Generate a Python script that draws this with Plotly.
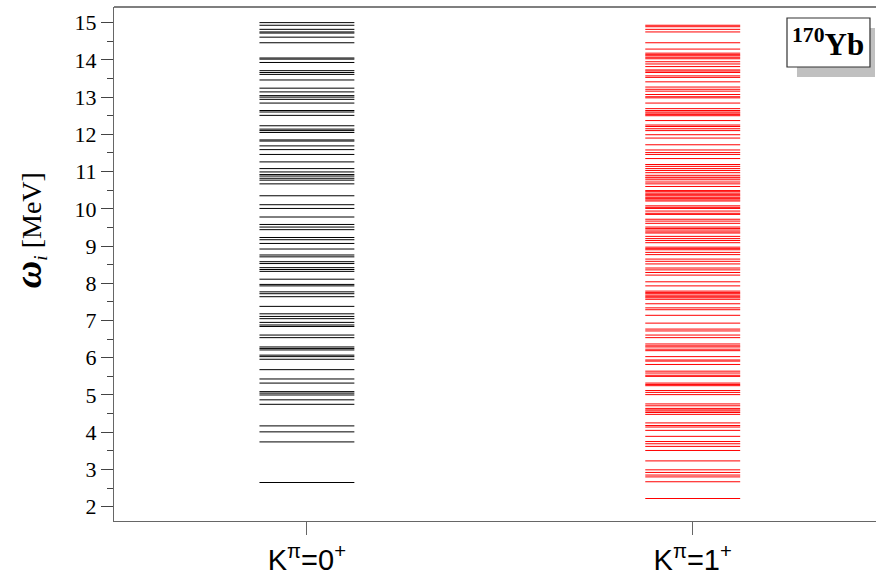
import plotly.graph_objects as go

categories = ["K<sup>π</sup>=0<sup>+</sup>", "K<sup>π</sup>=1<sup>+</sup>"]

k0_energies = [15.00, 14.93, 14.82, 14.75, 14.72, 14.61, 14.46, 14.05, 14.02, 13.93,
               13.71, 13.66, 13.61, 13.46, 13.24, 13.14, 13.04, 13.00, 12.94, 12.84,
               12.64, 12.60, 12.51, 12.23, 12.14, 12.10, 12.05, 11.85, 11.82, 11.69,
               11.59, 11.46, 11.26, 11.08, 10.99, 10.92, 10.88, 10.82, 10.77, 10.67,
               10.35, 10.11, 10.01, 9.78, 9.58, 9.51, 9.44, 9.23, 9.17, 9.07,
               8.92, 8.76, 8.71, 8.58, 8.53, 8.42, 8.37, 8.32, 8.11, 7.97,
               7.93, 7.77, 7.72, 7.64, 7.38, 7.18, 7.11, 7.05, 6.95, 6.88,
               6.84, 6.61, 6.54, 6.29, 6.25, 6.21, 6.07, 6.03, 5.96, 5.68,
               5.43, 5.32, 5.09, 5.05, 5.00, 4.87, 4.75, 4.17, 4.01, 3.74, 2.65]

k1_energies = [14.93, 14.89, 14.82, 14.75, 14.46, 14.29, 14.18, 14.14, 14.11, 14.07,
               14.03, 13.95, 13.89, 13.82, 13.73, 13.70, 13.66, 13.57, 13.53, 13.41,
               13.27, 13.21, 13.16, 13.07, 13.01, 12.98, 12.84, 12.69, 12.64, 12.60,
               12.57, 12.53, 12.50, 12.37, 12.25, 12.21, 12.15, 12.10, 11.99, 11.90,
               11.72, 11.58, 11.51, 11.46, 11.35, 11.19, 11.14, 11.08, 11.03, 10.97,
               10.90, 10.85, 10.83, 10.78, 10.72, 10.67, 10.60, 10.49, 10.46, 10.42,
               10.38, 10.35, 10.31, 10.28, 10.24, 10.21, 10.08, 10.04, 10.01, 9.94,
               9.88, 9.85, 9.72, 9.67, 9.61, 9.51, 9.47, 9.43, 9.38, 9.35,
               9.26, 9.20, 9.15, 9.09, 8.97, 8.93, 8.90, 8.83, 8.77, 8.65,
               8.59, 8.52, 8.41, 8.36, 8.29, 8.22, 8.04, 7.93, 7.79, 7.75,
               7.72, 7.68, 7.64, 7.61, 7.57, 7.45, 7.34, 7.29, 7.14, 6.93,
               6.77, 6.72, 6.61, 6.54, 6.37, 6.32, 6.29, 6.23, 6.19, 6.03,
               5.94, 5.91, 5.82, 5.64, 5.59, 5.53, 5.50, 5.32, 5.28, 5.25,
               5.12, 5.07, 5.01, 4.76, 4.71, 4.64, 4.60, 4.57, 4.53, 4.48,
               4.25, 4.18, 4.14, 4.05, 3.89, 3.75, 3.69, 3.62, 3.51, 3.23,
               2.99, 2.92, 2.85, 2.80, 2.67, 2.22]

y_ticks = list(range(2, 16))
nucleus_label = "<sup>170</sup>Yb"
colors = ["#000000", "#ff0000"]
half_width = 0.123


def level_segments(center, energies):
    xs, ys = [], []
    for e in energies:
        xs += [center - half_width, center + half_width, None]
        ys += [e, e, None]
    return xs, ys


fig = go.Figure()
for i, energies in enumerate([k0_energies, k1_energies]):
    xs, ys = level_segments(i, energies)
    fig.add_trace(go.Scatter(x=xs, y=ys, mode="lines",
                             line=dict(color=colors[i], width=1),
                             hoverinfo="skip", showlegend=False))

fig.update_layout(
    width=876, height=585,
    margin=dict(l=114, r=0, t=7, b=64),
    plot_bgcolor="white", paper_bgcolor="white",
    xaxis=dict(range=[-0.5, 1.475], tickvals=[0, 1], ticktext=categories,
               showgrid=False, zeroline=False, showline=True, linecolor="#666666",
               linewidth=1.2, ticks="outside", ticklen=13, tickcolor="#666666",
               tickfont=dict(family="Liberation Sans, Arial", size=29, color="black")),
    yaxis=dict(range=[1.616, 15.42], tickvals=y_ticks,
               showgrid=False, zeroline=False, showline=True, linecolor="#666666",
               linewidth=1.2, ticks="outside", ticklen=12, tickcolor="#444444",
               tickfont=dict(family="Liberation Serif, Times New Roman", size=22, color="black"),
               minor=dict(dtick=0.5, ticks="outside", ticklen=6, tickcolor="#444444")),
)

# top border
fig.add_shape(type="line", xref="paper", yref="paper", x0=0, x1=1, y0=1, y1=1,
              line=dict(color="black", width=1.2))

# inset label with shadow
fig.add_shape(type="rect", xref="paper", yref="paper",
              x0=0.8963, x1=0.9987, y0=0.8638, y1=0.9591,
              fillcolor="#c0c0c0", line=dict(width=0), layer="above")
fig.add_shape(type="rect", xref="paper", yref="paper",
              x0=0.8832, x1=0.9921, y0=0.8833, y1=0.9786,
              fillcolor="white", line=dict(color="#333333", width=1.2), layer="above")
fig.add_annotation(xref="paper", yref="paper", x=(0.8832 + 0.9921) / 2, y=(0.8833 + 0.9786) / 2,
                   text="<b>" + nucleus_label + "</b>", showarrow=False,
                   font=dict(family="Liberation Serif, Times New Roman", size=31, color="black"),
                   xanchor="center", yanchor="middle")

# y-axis title
fig.add_annotation(xref="paper", yref="paper", x=-0.112, y=0.565,
                   text="<b><i><span style='font-size:38px'>ω</span></i></b><sub><i>i</i></sub> [MeV]",
                   textangle=-90, showarrow=False,
                   font=dict(family="Liberation Serif, Times New Roman", size=28, color="black"),
                   xanchor="center", yanchor="middle")

fig.write_html("out.html",
               config={"displayModeBar": False},
               post_script="document.body.style.margin='0';document.body.style.padding='0';"
                           "document.body.style.overflow='hidden';")
